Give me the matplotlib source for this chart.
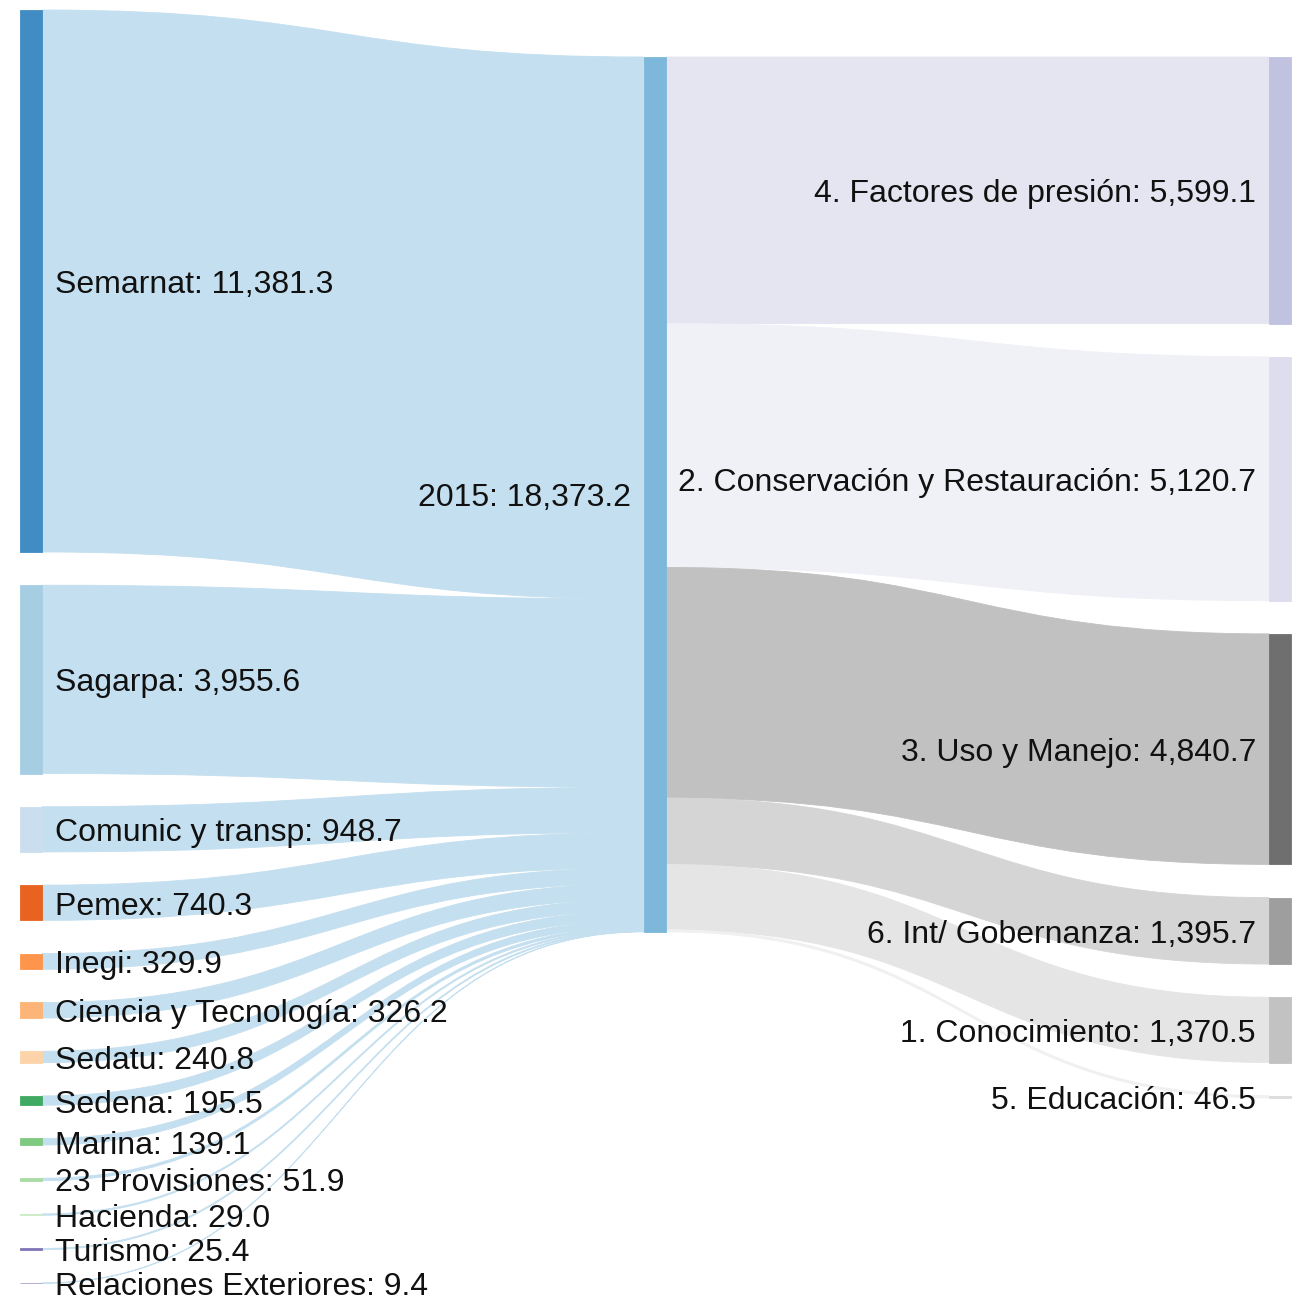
import matplotlib
matplotlib.use("Agg")
import matplotlib.pyplot as plt
import matplotlib.colors as mcolors
from matplotlib.path import Path
from matplotlib.patches import PathPatch, Rectangle

plt.rcParams['font.family'] = ['Liberation Sans', 'DejaVu Sans']

# left column: budget by agency
sources = ["Semarnat", "Sagarpa", "Comunic y transp", "Pemex", "Inegi",
           "Ciencia y Tecnología", "Sedatu", "Sedena", "Marina",
           "23 Provisiones", "Hacienda", "Turismo", "Relaciones Exteriores"]
source_vals = [11381.3, 3955.6, 948.7, 740.3, 329.9, 326.2, 240.8, 195.5,
               139.1, 51.9, 29.0, 25.4, 9.4]
source_colors = ["#3182bd", "#9ecae1", "#c6dbef", "#e6550d", "#fd8d3c",
                 "#fdae6b", "#fdd0a2", "#31a354", "#74c476", "#a1d99b",
                 "#c7e9c0", "#756bb1", "#9e9ac8"]

# middle node
middle = "2015"
middle_val = 18373.2
middle_color = "#6baed6"

# right column: budget by axis
targets = ["4. Factores de presión", "2. Conservación y Restauración",
           "3. Uso y Manejo", "6. Int/ Gobernanza", "1. Conocimiento",
           "5. Educación"]
target_vals = [5599.1, 5120.7, 4840.7, 1395.7, 1370.5, 46.5]
target_colors = ["#bcbddc", "#dadaeb", "#636363", "#969696", "#bdbdbd",
                 "#d9d9d9"]

# layout (pixel units)
W, H = 1294, 1303
scale = 0.04762
gap = 33.2
node_w = 22
x_left, x_mid, x_right = 20, 644, 1269
top_left, top_mid, top_right = 10, 57, 57
pad = 13
fs = 23
text_dy = 4


def on_white(c, a):
    r, g, b = mcolors.to_rgb(c)
    return (1 - a + a * r, 1 - a + a * g, 1 - a + a * b)


def stack(vals, top, g):
    out = []
    y = top
    for v in vals:
        out.append((y, y + v * scale))
        y += v * scale + g
    return out


def band(ax, x0, a0, b0, x1, a1, b1, color):
    xm = (x0 + x1) / 2
    verts = [(x0, a0), (xm, a0), (xm, a1), (x1, a1),
             (x1, b1), (xm, b1), (xm, b0), (x0, b0), (x0, a0)]
    codes = [Path.MOVETO, Path.CURVE4, Path.CURVE4, Path.CURVE4,
             Path.LINETO, Path.CURVE4, Path.CURVE4, Path.CURVE4, Path.CLOSEPOLY]
    ax.add_patch(PathPatch(Path(verts, codes), facecolor=color,
                           edgecolor=color, lw=0.6))


fig = plt.figure(figsize=(W / 100, H / 100), dpi=100)
ax = fig.add_axes([0, 0, 1, 1])
ax.set_xlim(0, W)
ax.set_ylim(H, 0)
ax.axis('off')

left_pos = stack(source_vals, top_left, gap)
mid_pos = (top_mid, top_mid + middle_val * scale)
right_pos = stack(target_vals, top_right, gap)

# links into the middle node
y = mid_pos[0]
for (y0, y1), v in zip(left_pos, source_vals):
    h = v * scale
    band(ax, x_left + node_w, y0, y1, x_mid, y, y + h, on_white(middle_color, 0.4))
    y += h

# links out of the middle node
y = mid_pos[0]
for (y0, y1), v, c in zip(right_pos, target_vals, target_colors):
    h = v * scale
    band(ax, x_mid + node_w, y, y + h, x_right, y0, y1, on_white(c, 0.4))
    y += h

# nodes
for (y0, y1), c in zip(left_pos, source_colors):
    col = on_white(c, 0.92)
    ax.add_patch(Rectangle((x_left, y0), node_w, y1 - y0, facecolor=col,
                           edgecolor=col, lw=0.6))
col = on_white(middle_color, 0.88)
ax.add_patch(Rectangle((x_mid, mid_pos[0]), node_w, mid_pos[1] - mid_pos[0],
                       facecolor=col, edgecolor=col, lw=0.6))
for (y0, y1), c in zip(right_pos, target_colors):
    col = on_white(c, 0.92)
    ax.add_patch(Rectangle((x_right, y0), node_w, y1 - y0, facecolor=col,
                           edgecolor=col, lw=0.6))

# labels
for (y0, y1), name, v in zip(left_pos, sources, source_vals):
    ax.text(x_left + node_w + pad, (y0 + y1) / 2 + text_dy, f"{name}: {v:,.1f}",
            ha='left', va='center', fontsize=fs, color='#111111')
ax.text(x_mid - pad, sum(mid_pos) / 2 + text_dy, f"{middle}: {middle_val:,.1f}",
        ha='right', va='center', fontsize=fs, color='#111111')
for (y0, y1), name, v in zip(right_pos, targets, target_vals):
    ax.text(x_right - pad, (y0 + y1) / 2 + text_dy, f"{name}: {v:,.1f}",
            ha='right', va='center', fontsize=fs, color='#111111')

fig.savefig('out.png', dpi=100)
